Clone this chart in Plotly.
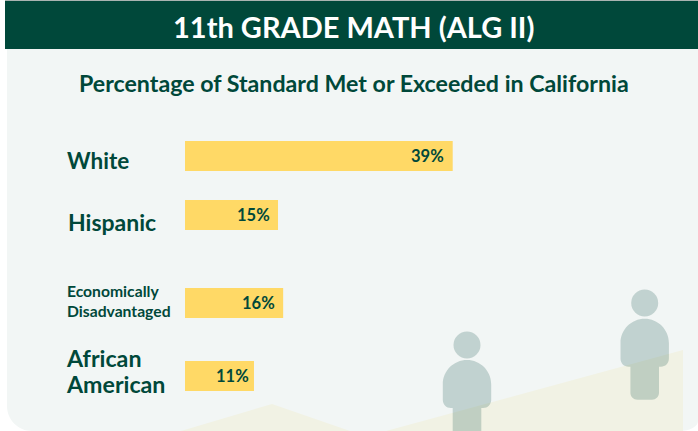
import plotly.graph_objects as go

W, H = 698, 431

# ---- data ----
categories = ["White", "Hispanic", "Economically<br>Disadvantaged", "African<br>American"]
value_labels = ["39%", "15%", "16%", "11%"]
# drawn bar lengths as they appear in the picture (39% bar as the yardstick);
# the reference's bars are not strictly proportional to their printed labels
bar_lengths = [39.0, 13.55, 14.3, 10.05]

title_text = "11th GRADE MATH (ALG II)"
subtitle_text = "Percentage of Standard Met or Exceeded in California"

# ---- layout constants (pixels) ----
row_centres = [156, 215, 303, 376]
label_centres = [161, 222, 301, 371]
label_sizes = [22.5, 23, 15.7, 23.2]
label_line_gap = [0, 0, 20, 26]
label_x = [64.5, 65.5, 64.5, 63.5]
value_shift = [-6.5, -6.5, -6.5, -3]
BAR_LEFT = 185
PX_PER_UNIT = (452.7 - 185) / 39
DARK = "#00483a"
YELLOW = "#ffd966"
PANEL = "#f2f6f5"
HILL = "#f1f2e4"
FONT = "Lato"


def fx(x):
    return x / W


def fy(y):
    return 1 - y / H


def path(cmds):
    out = []
    for c in cmds:
        if c == "Z":
            out.append("Z")
        else:
            op, *pts = c
            out.append(op + " ".join(f"{fx(x):.5f},{fy(y):.5f}" for x, y in pts))
    return " ".join(out)


K = 0.5523


def corner(x0, y0, x1, y1, horizontal_first):
    if horizontal_first:
        return ("C", (x0 + (x1 - x0) * K, y0), (x1, y1 - (y1 - y0) * K), (x1, y1))
    return ("C", (x0, y0 + (y1 - y0) * K), (x1 - (x1 - x0) * K, y1), (x1, y1))


def person(cx, head_y, body_top, body_bottom, leg_bottom):
    hr, bw, lw, br, lr = 13.5, 24.2, 14.3, 8, 7
    shapes = [
        dict(type="circle", xref="paper", yref="paper",
             x0=fx(cx - hr), x1=fx(cx + hr), y0=fy(head_y + hr), y1=fy(head_y - hr),
             fillcolor=DARK, opacity=0.2, line_width=0, layer="below")
    ]
    cmds = [
        ("M", (cx - bw, body_top + bw)),
        corner(cx - bw, body_top + bw, cx, body_top, False),
        corner(cx, body_top, cx + bw, body_top + bw, True),
        ("L", (cx + bw, body_bottom - br)),
        corner(cx + bw, body_bottom - br, cx + bw - br, body_bottom, False),
        ("L", (cx + lw, body_bottom)),
        ("L", (cx + lw, leg_bottom - lr)),
        corner(cx + lw, leg_bottom - lr, cx + lw - lr, leg_bottom, False),
        ("L", (cx - lw + lr, leg_bottom)),
        corner(cx - lw + lr, leg_bottom, cx - lw, leg_bottom - lr, True),
        ("L", (cx - lw, body_bottom)),
        ("L", (cx - bw + br, body_bottom)),
        corner(cx - bw + br, body_bottom, cx - bw, body_bottom - br, True),
        "Z",
    ]
    shapes.append(dict(type="path", xref="paper", yref="paper", path=path(cmds),
                       fillcolor=DARK, opacity=0.2, line_width=0, layer="below"))
    return shapes


shapes = [
    # thin rule at the very top
    dict(type="rect", xref="paper", yref="paper", x0=fx(5), x1=1, y0=fy(1), y1=1,
         fillcolor="#a9b4b1", line_width=0, layer="below"),
    # panel with rounded bottom corners
    dict(type="path", xref="paper", yref="paper", fillcolor=PANEL, line_width=0, layer="below",
         path=path([("M", (7, 49)), ("L", (698, 49)), ("L", (698, 421)),
                    corner(698, 421, 680, 431, False), ("L", (32, 431)),
                    corner(32, 431, 7, 406, True), "Z"])),
    # hills
    dict(type="path", xref="paper", yref="paper", fillcolor=HILL, line_width=0, layer="below",
         path=path([("M", (181, 431)), ("L", (272, 404)), ("L", (350, 431)), "Z"])),
    dict(type="path", xref="paper", yref="paper", fillcolor=HILL, line_width=0, layer="below",
         path=path([("M", (386, 431)), ("L", (683, 350)), ("L", (683, 431)), "Z"])),
    # header band
    dict(type="rect", xref="paper", yref="paper", x0=fx(5), x1=1, y0=fy(49), y1=fy(1),
         fillcolor=DARK, line_width=0, layer="below"),
]
shapes += person(467, 345, 360, 408, 445)
shapes += person(644.7, 303, 318.7, 366.7, 399.7)

annotations = [
    dict(text=f"<b>{title_text}</b>", xref="paper", yref="paper", x=fx(353.5), y=fy(27),
         showarrow=False, xanchor="center", yanchor="middle",
         font=dict(family=FONT, size=29, color="white")),
    dict(text=f"<b>{subtitle_text}</b>", xref="paper", yref="paper", x=fx(354), y=fy(83.5),
         showarrow=False, xanchor="center", yanchor="middle",
         font=dict(family=FONT, size=23.2, color=DARK)),
]
for cat, cy, sz, lx, gap in zip(categories, label_centres, label_sizes, label_x, label_line_gap):
    lines = cat.split("<br>")
    for i, line in enumerate(lines):
        ly = cy + (i - (len(lines) - 1) / 2) * gap
        annotations.append(dict(text=f"<b>{line}</b>", xref="paper", yref="paper", x=fx(lx), y=fy(ly),
                                showarrow=False, xanchor="left", yanchor="middle", align="left",
                                font=dict(family=FONT, size=sz, color=DARK)))
for val, lab, cy, sh in zip(bar_lengths, value_labels, row_centres, value_shift):
    annotations.append(dict(text=f"<b>{lab}</b>", xref="x", yref="y", x=val, y=cy,
                            xshift=sh, showarrow=False, xanchor="right", yanchor="middle",
                            font=dict(family=FONT, size=16.5, color=DARK)))

fig = go.Figure(go.Bar(
    x=bar_lengths, y=row_centres, orientation="h", width=30,
    marker=dict(color=YELLOW, line_width=0), hoverinfo="skip",
))
fig.update_layout(
    width=W, height=H, margin=dict(l=0, r=0, t=0, b=0),
    paper_bgcolor="white", plot_bgcolor="rgba(0,0,0,0)", showlegend=False,
    xaxis=dict(visible=False, range=[-BAR_LEFT / PX_PER_UNIT, (W - BAR_LEFT) / PX_PER_UNIT], fixedrange=True),
    yaxis=dict(visible=False, range=[H, 0], fixedrange=True),
    shapes=shapes, annotations=annotations,
)
fig.write_html("out.html", config=dict(displayModeBar=False, responsive=False),
               post_script="document.body.style.margin='0';document.body.style.overflow='hidden';")
